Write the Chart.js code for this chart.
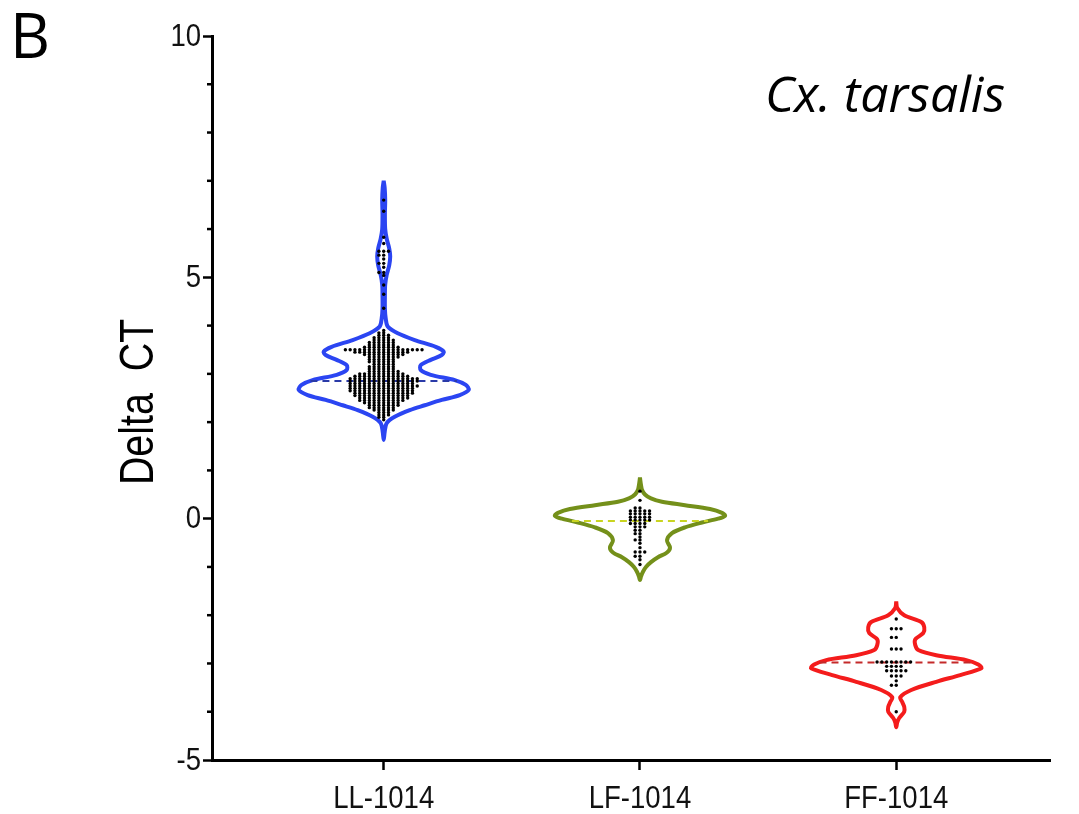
<!DOCTYPE html>
<html>
<head>
<meta charset="utf-8">
<script src="https://cdn.jsdelivr.net/npm/chart.js@4.4.1/dist/chart.umd.min.js"></script>
<style>
  body { margin: 0; background: #fff; }
  #wrap { width: 1079px; height: 814px; }
</style>
</head>
<body>
<div id="wrap"><canvas id="grafico"></canvas></div>
<script>
// categorias e ticks
const categorias = ['LL-1014', 'LF-1014', 'FF-1014'];
const yTicks = [-5, 0, 5, 10];

// perfil dos violinos: nivel (Delta CT) e largura relativa (max 85)
const llNiveis = [7.0, 6.85, 6.6, 6.3, 6.0, 5.8, 5.6, 5.43, 5.25, 5.05, 4.85, 4.6, 4.35, 4.15, 3.98, 3.84, 3.70, 3.56, 3.46, 3.39, 3.29, 3.18, 3.08, 2.98, 2.87, 2.77, 2.67, 2.56, 2.46, 2.35, 2.25, 2.11, 1.98, 1.8, 1.63];
const llLarguras = [0, 1, 1.5, 1.2, 1.5, 3, 5.5, 6.5, 5.5, 3, 1.5, 1.2, 1.2, 2, 4, 14, 31, 52, 60, 58, 47, 37, 37, 47, 71, 82, 85, 76, 58, 41, 26, 11, 3, 1, 0];

const lfNiveis = [0.85, 0.7, 0.6, 0.5, 0.42, 0.35, 0.28, 0.2, 0.12, 0.06, 0, -0.08, -0.18, -0.3, -0.45, -0.6, -0.7, -0.8, -0.9, -1.0, -1.1, -1.2, -1.27];
const lfLarguras = [0, 1, 2, 5, 11, 22, 45, 70, 82, 85, 78, 62, 45, 32, 27, 30, 27, 18, 11, 6, 3, 1, 0];

const ffNiveis = [-1.72, -1.85, -2.0, -2.14, -2.25, -2.37, -2.5, -2.62, -2.72, -2.83, -2.93, -3.02, -3.1, -3.24, -3.38, -3.55, -3.7, -3.8, -3.9, -4.0, -4.13, -4.22, -4.32];
const ffLarguras = [0, 1, 8, 25, 28, 27, 19, 19, 22, 40, 70, 82, 85, 64, 40, 15, 4, 6, 8, 8, 3, 1, 0];

const medianas = [2.85, -0.05, -2.98];

// pontos individuais: nivel e quantidade em cada linha
const llPontosNiveis = [6.6, 6.37, 5.83, 5.7, 5.54, 5.46, 5.38, 5.29, 5.21, 5.1, 5.04, 4.84, 4.65, 4.36,
  3.9, 3.85, 3.8, 3.75, 3.7, 3.65, 3.6, 3.55, 3.5, 3.45, 3.4, 3.35, 3.3, 3.25, 3.2, 3.15, 3.1, 3.05, 3.0,
  2.95, 2.9, 2.85, 2.8, 2.75, 2.7, 2.65, 2.6, 2.55, 2.5, 2.45, 2.4, 2.35, 2.3, 2.25, 2.2, 2.15, 2.1, 2.05];
const llPontosQtd = [1, 1, 1, 1, 3, 2, 1, 2, 1, 2, 1, 1, 1, 1,
  1, 2, 3, 4, 5, 6, 6, 8, 17, 12, 9, 7, 6, 6, 5, 6, 6, 7, 10,
  12, 15, 15, 14, 15, 14, 14, 13, 12, 11, 10, 8, 7, 6, 5, 3, 3, 2, 1];

const lfPontosNiveis = [0.57, 0.38, 0.22, 0.16, 0.1, 0.03, -0.03, -0.1, -0.17, -0.24, -0.31, -0.38, -0.44, -0.51, -0.6, -0.69, -0.78, -0.85, -0.95];
const lfPontosQtd = [1, 1, 2, 5, 5, 5, 5, 4, 3, 2, 2, 1, 2, 1, 1, 3, 2, 1, 1];

const ffPontosNiveis = [-2.08, -2.28, -2.46, -2.7, -2.97, -3.06, -3.15, -3.26, -3.36, -3.45, -4.0];
const ffPontosQtd = [1, 3, 2, 3, 8, 4, 5, 3, 1, 2, 1];

const MEIA_LARGURA = 0.332;   // meia largura maxima do violino (unidades x)
const ESPACO_PONTO = 0.0187;  // espaco horizontal entre pontos

const grupos = [
  { niveis: llNiveis, larg: llLarguras, pn: llPontosNiveis, pq: llPontosQtd, cor: '#2b45f2', corMed: '#2a3aa8' },
  { niveis: lfNiveis, larg: lfLarguras, pn: lfPontosNiveis, pq: lfPontosQtd, cor: '#74901a', corMed: '#c9d420' },
  { niveis: ffNiveis, larg: ffLarguras, pn: ffPontosNiveis, pq: ffPontosQtd, cor: '#f41c1c', corMed: '#c42a2a' }
];

function contorno(centro, niveis, larg) {
  const k = MEIA_LARGURA / 85;
  const dir = niveis.map((v, i) => ({ x: centro + larg[i] * k, y: v }));
  const esq = niveis.map((v, i) => ({ x: centro - larg[i] * k, y: v })).reverse();
  return dir.concat(esq.slice(1));
}

function larguraEm(niveis, larg, v) {
  for (let i = 0; i < niveis.length - 1; i++) {
    if (v <= niveis[i] && v >= niveis[i + 1]) {
      const t = (niveis[i] - v) / (niveis[i] - niveis[i + 1]);
      return larg[i] + t * (larg[i + 1] - larg[i]);
    }
  }
  return 0;
}

// pontos alinhados numa grade de colunas
function pontos(centro, niveis, qtd) {
  const pts = [];
  niveis.forEach((v, i) => {
    const n = qtd[i];
    const ini = -Math.floor(n / 2);
    for (let j = 0; j < n; j++) {
      pts.push({ x: centro + (ini + j) * ESPACO_PONTO, y: v });
    }
  });
  return pts;
}

const datasets = [];
grupos.forEach((g, i) => {
  const centro = i + 1;
  const w = larguraEm(g.niveis, g.larg, medianas[i]) * MEIA_LARGURA / 85;
  datasets.push({
    data: contorno(centro, g.niveis, g.larg),
    showLine: true, borderColor: g.cor, borderWidth: 4, tension: 0.3,
    pointRadius: 0, fill: false, borderJoinStyle: 'round', order: 3
  });
  datasets.push({
    data: [{ x: centro - w, y: medianas[i] }, { x: centro + w, y: medianas[i] }],
    showLine: true, borderColor: g.corMed, borderWidth: 2, borderDash: [7, 5],
    pointRadius: 0, order: 2
  });
  datasets.push({
    data: pontos(centro, g.pn, g.pq),
    pointRadius: 1.7, pointBackgroundColor: '#000', pointBorderWidth: 0, order: 1
  });
});

const fonte = "'Liberation Sans', Arial, sans-serif";

// texto estreito (fonte condensada simulada)
function textoEstreito(ctx, txt, x, y, fator) {
  ctx.save();
  ctx.translate(x, y);
  ctx.scale(fator, 1);
  ctx.fillText(txt, 0, 0);
  ctx.restore();
}

// ticks menores do eixo y e rotulos dos eixos
const eixos = {
  id: 'eixos',
  afterDraw(chart) {
    const ctx = chart.ctx;
    const y = chart.scales.y;
    const x = chart.scales.x;
    ctx.save();
    ctx.strokeStyle = '#000';
    ctx.lineWidth = 2.5;
    for (let v = -5; v <= 10; v++) {
      if (v % 5 === 0) continue;
      const py = y.getPixelForValue(v);
      ctx.beginPath();
      ctx.moveTo(y.right - 5, py);
      ctx.lineTo(y.right, py);
      ctx.stroke();
    }
    ctx.fillStyle = '#111';
    ctx.font = '32px ' + fonte;
    ctx.textAlign = 'right';
    ctx.textBaseline = 'middle';
    yTicks.forEach(v => {
      textoEstreito(ctx, String(v), y.right - 11, y.getPixelForValue(v) + 1, 0.86);
    });
    ctx.font = '32px ' + fonte;
    ctx.textAlign = 'center';
    ctx.textBaseline = 'top';
    categorias.forEach((c, i) => {
      textoEstreito(ctx, c, x.getPixelForValue(i + 1), x.top + 23, 0.86);
    });
    ctx.restore();
  }
};

// textos: letra do painel, especie e rotulo do eixo y
const textos = {
  id: 'textos',
  afterDraw(chart) {
    const ctx = chart.ctx;
    const area = chart.chartArea;
    ctx.save();
    ctx.fillStyle = '#000';
    ctx.textBaseline = 'alphabetic';
    ctx.font = "62px 'Open Sans', sans-serif";
    ctx.fillText('B', 10, 58);
    ctx.font = "italic 50px 'Open Sans', sans-serif";
    ctx.textAlign = 'right';
    ctx.fillText('Cx. tarsalis', area.right - 45, 112);
    ctx.translate(140, (area.top + area.bottom) / 2 + 4);
    ctx.rotate(-Math.PI / 2);
    ctx.textAlign = 'center';
    ctx.textBaseline = 'middle';
    ctx.font = '48px ' + fonte;
    ctx.scale(0.82, 1);
    ctx.fillText('Delta  CT', 0, 0);
    ctx.restore();
  }
};

const ctx = document.getElementById('grafico').getContext('2d');
new Chart(ctx, {
  type: 'scatter',
  data: { datasets: datasets },
  options: {
    responsive: true,
    maintainAspectRatio: false,
    animation: false,
    layout: { padding: { top: 36, right: 29, left: 0, bottom: 0 } },
    plugins: { legend: { display: false }, tooltip: { enabled: false } },
    scales: {
      x: {
        type: 'linear', min: 0.33, max: 3.6,
        afterBuildTicks: function(scale) {
          scale.ticks = categorias.map((c, i) => ({ value: i + 1 }));
        },
        afterFit: function(scale) { scale.height = 54; },
        ticks: {
          callback: function(value) { return categorias[value - 1]; },
          color: 'rgba(0,0,0,0)', font: { family: fonte, size: 30 }, padding: 10,
          autoSkip: false, maxRotation: 0
        },
        grid: { drawOnChartArea: false, drawTicks: true, tickLength: 10, tickWidth: 2.5, tickColor: '#000' },
        border: { display: true, color: '#000', width: 3 }
      },
      y: {
        min: -5, max: 10,
        afterBuildTicks: function(scale) {
          scale.ticks = yTicks.map(v => ({ value: v }));
        },
        afterFit: function(scale) { scale.width = 212; },
        ticks: { color: 'rgba(0,0,0,0)', font: { family: fonte, size: 28 }, padding: 3 },
        grid: { drawOnChartArea: false, drawTicks: true, tickLength: 9, tickWidth: 2.5, tickColor: '#000' },
        border: { display: true, color: '#000', width: 3 }
      }
    }
  },
  plugins: [eixos, textos]
});
</script>
</body>
</html>
